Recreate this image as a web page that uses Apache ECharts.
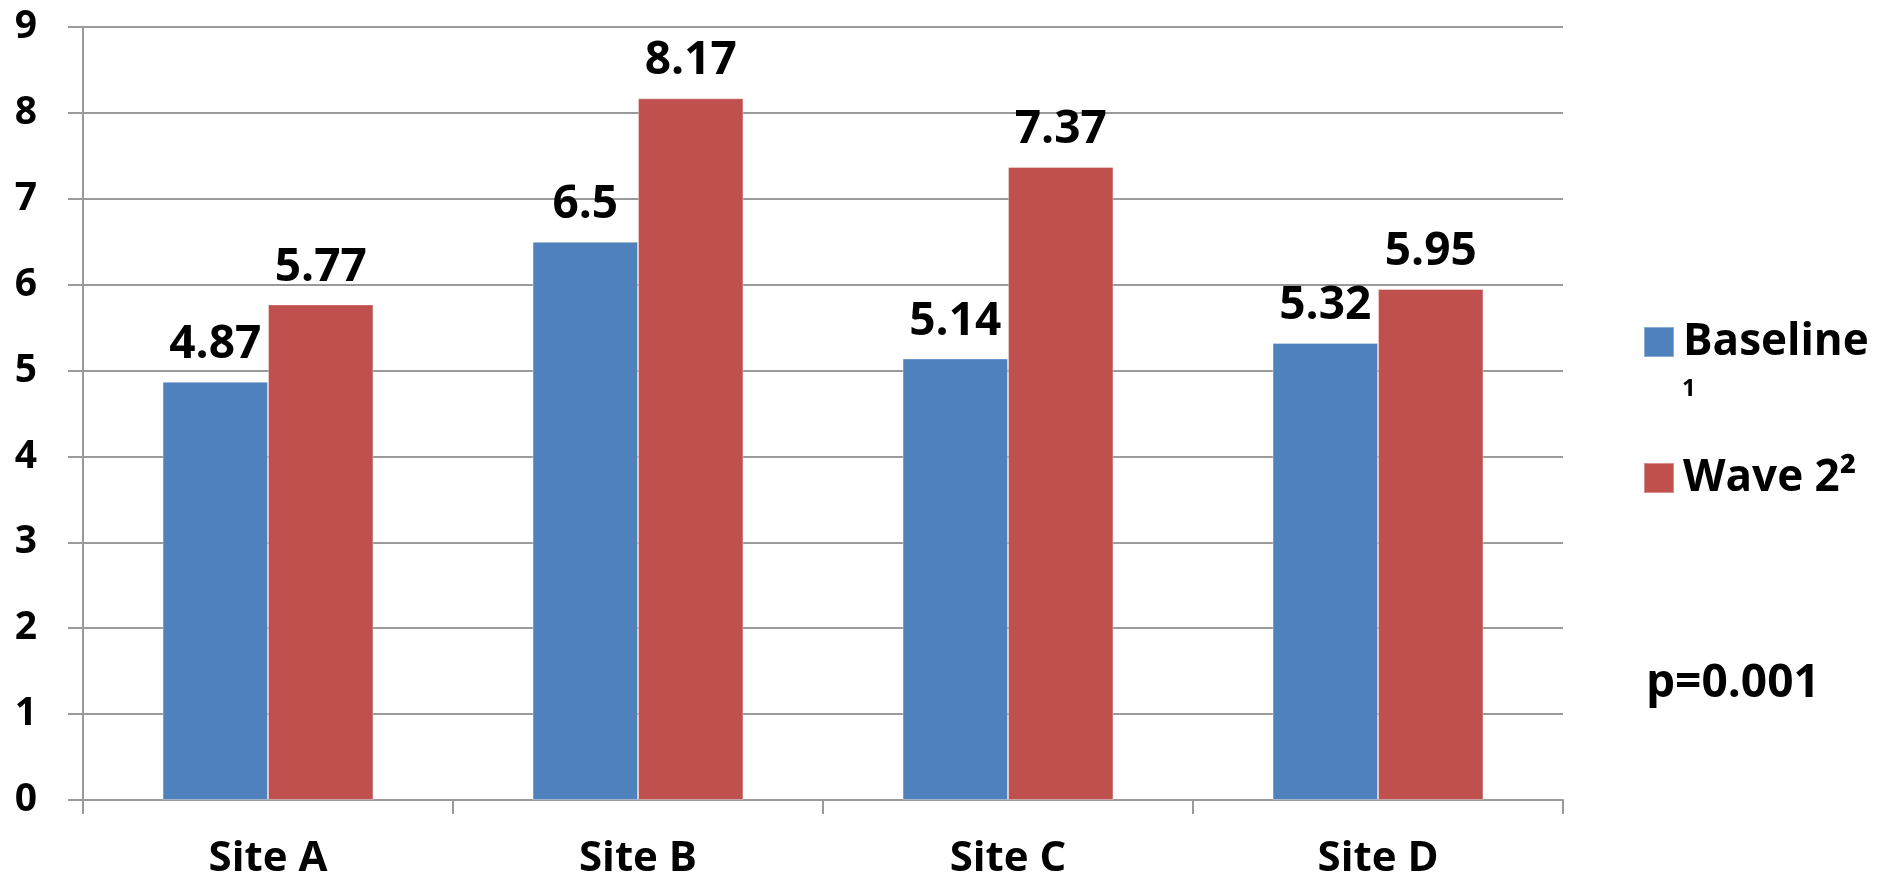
<!DOCTYPE html>
<html>
<head>
<meta charset="utf-8">
<title>Baseline vs Wave 2 by site</title>
<script src="https://cdn.jsdelivr.net/npm/echarts@6/dist/echarts.min.js"></script>
<style>
  html, body { margin: 0; padding: 0; background: #ffffff; }
  #chart { width: 1879px; height: 881px; }
</style>
</head>
<body>
<div id="chart"></div>
<script>
// Sites on the category axis
const categories = ['Site A', 'Site B', 'Site C', 'Site D'];
// Series names and mean scores per site
const seriesNames = ['Baseline', 'Wave 2²'];
const baselineValues = [4.87, 6.5, 5.14, 5.32];
const wave2Values = [5.77, 8.17, 7.37, 5.95];
// Footnote marker that wraps under the first legend entry
const baselineNote = '1';
// Value axis range
const yMin = 0;
const yMax = 9;
const yStep = 1;
const pValueText = 'p=0.001';

const FONT = '"Open Sans", "DejaVu Sans", sans-serif';
const GRID_GRAY = '#9a9a9a';

const chart = echarts.init(document.getElementById('chart'), null, { renderer: 'canvas' });

const labelStyle = {
  show: true,
  position: 'top',
  distance: 14,
  color: '#000',
  fontFamily: FONT,
  fontWeight: 'bold',
  fontSize: 46
};

chart.setOption({
  backgroundColor: '#ffffff',
  animation: false,
  grid: { left: 83, right: 316, top: 27, bottom: 81, containLabel: false },
  legend: {
    orient: 'vertical',
    left: 1638,
    top: 314,
    itemWidth: 30,
    itemHeight: 30,
    itemGap: 90,
    icon: 'rect',
    selectedMode: false,
    data: seriesNames,
    textStyle: {
      color: '#000',
      fontFamily: FONT,
      fontWeight: 'bold',
      fontSize: 44,
      lineHeight: 46,
      padding: [0, 0, 0, 4]
    }
  },
  title: {
    text: pValueText,
    left: 1641,
    top: 656,
    textStyle: { color: '#000', fontFamily: FONT, fontWeight: 'bold', fontSize: 46 }
  },
  graphic: [
    {
      type: 'text',
      left: 1682,
      top: 377,
      style: {
        text: baselineNote,
        fill: '#000',
        font: 'bold 24px ' + FONT
      }
    }
  ],
  xAxis: {
    type: 'category',
    data: categories,
    axisLine: { lineStyle: { color: GRID_GRAY, width: 2 } },
    axisTick: { show: true, length: 14, inside: false, alignWithLabel: false, lineStyle: { color: GRID_GRAY, width: 2 } },
    axisLabel: { color: '#000', fontFamily: FONT, fontWeight: 'bold', fontSize: 42, margin: 38 }
  },
  yAxis: {
    type: 'value',
    min: yMin,
    max: yMax,
    interval: yStep,
    axisLine: { show: true, lineStyle: { color: GRID_GRAY, width: 2 } },
    axisTick: { show: true, length: 15, lineStyle: { color: GRID_GRAY, width: 2 } },
    splitLine: { show: true, lineStyle: { color: GRID_GRAY, width: 2 } },
    axisLabel: { color: '#000', fontFamily: FONT, fontWeight: 'bold', fontSize: 39, margin: 46 }
  },
  series: [
    {
      name: seriesNames[0],
      type: 'bar',
      data: baselineValues,
      barGap: '0%',
      barCategoryGap: '43%',
      itemStyle: { color: '#4F81BD', borderColor: 'rgba(255,255,255,0.35)', borderWidth: 1 },
      label: labelStyle
    },
    {
      name: seriesNames[1],
      type: 'bar',
      data: wave2Values,
      barGap: '0%',
      barCategoryGap: '43%',
      itemStyle: { color: '#C0504D', borderColor: 'rgba(255,255,255,0.35)', borderWidth: 1 },
      label: labelStyle
    }
  ]
});
</script>
</body>
</html>
